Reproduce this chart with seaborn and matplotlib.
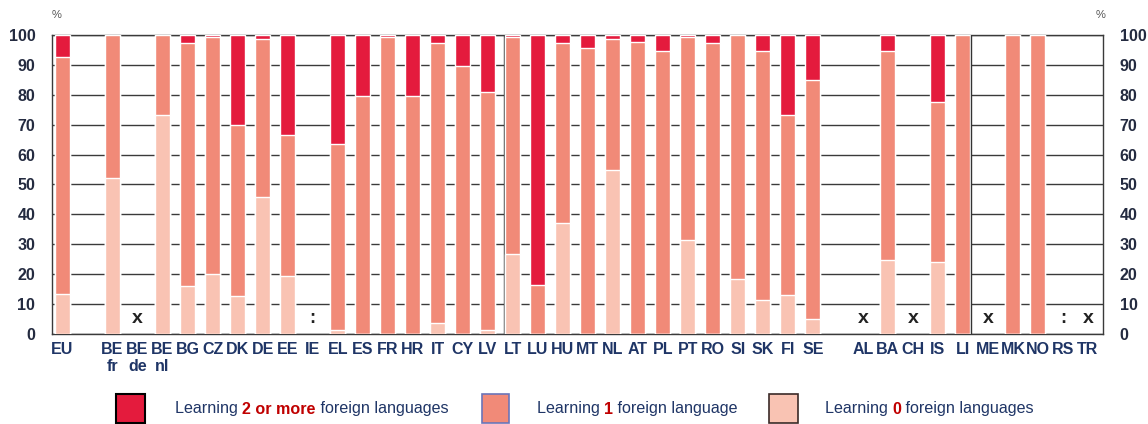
import numpy as np
import pandas as pd
import seaborn as sns
import matplotlib.pyplot as plt
from matplotlib.patches import Rectangle
from matplotlib import font_manager

sns.set_style("white")
plt.rcParams['font.family'] = ['Liberation Sans', 'DejaVu Sans']

nan = np.nan

# country slots ("gap" entries are empty spacer slots)
countries = ["EU", "gap1", "BE fr", "BE de", "BE nl", "BG", "CZ", "DK", "DE", "EE",
             "IE", "EL", "ES", "FR", "HR", "IT", "CY", "LV", "LT", "LU", "HU", "MT",
             "NL", "AT", "PL", "PT", "RO", "SI", "SK", "FI", "SE", "gap2",
             "AL", "BA", "CH", "IS", "LI", "ME", "MK", "NO", "RS", "TR"]
tick_labels = ["EU", "", "BE\nfr", "BE\nde", "BE\nnl", "BG", "CZ", "DK", "DE", "EE",
               "IE", "EL", "ES", "FR", "HR", "IT", "CY", "LV", "LT", "LU", "HU", "MT",
               "NL", "AT", "PL", "PT", "RO", "SI", "SK", "FI", "SE", "",
               "AL", "BA", "CH", "IS", "LI", "ME", "MK", "NO", "RS", "TR"]

zero_lang = [13.5, nan, 52.3, nan, 73.2, 16.2, 19.9, 12.8, 45.8, 19.5,
             nan, 1.3, 0, 0, 0, 3.6, 0, 1.3, 26.6, 0, 37.1, 0,
             55.0, 0, 0, 31.5, 0, 18.4, 11.2, 13.1, 5.0, nan,
             nan, 24.6, nan, 24.2, 0, nan, 0, 0, nan, nan]
one_lang = [79.0, nan, 47.7, nan, 26.8, 81.2, 79.3, 57.0, 52.8, 47.0,
            nan, 62.4, 79.6, 99.4, 79.7, 93.8, 89.7, 79.5, 72.6, 16.5, 60.3, 95.5,
            43.7, 97.8, 94.7, 67.9, 97.4, 81.6, 83.5, 60.1, 79.9, nan,
            nan, 70.1, nan, 53.4, 100, nan, 100, 100, nan, nan]
two_lang = [7.5, nan, 0, nan, 0, 2.6, 0.8, 30.2, 1.4, 33.5,
            nan, 36.3, 20.4, 0.6, 20.3, 2.6, 10.3, 19.2, 0.8, 83.5, 2.6, 4.5,
            1.3, 2.2, 5.3, 0.6, 2.6, 0, 5.3, 26.8, 15.1, nan,
            nan, 5.3, nan, 22.4, 0, nan, 0, 0, nan, nan]

# x = not available, : = no data
missing = {"BE de": "x", "IE": ":", "AL": "x", "CH": "x", "ME": "x", "RS": ":", "TR": "x"}

c_two = "#e41b3d"
c_one = "#f18a78"
c_zero = "#f9c3b3"
navy = "#1f3566"

df = pd.DataFrame({"country": countries, "zero": zero_lang, "one": one_lang, "two": two_lang})
df["top0"] = df["zero"]
df["top1"] = df["zero"] + df["one"]
df["top2"] = df["top1"] + df["two"]

fig = plt.figure(figsize=(11.48, 4.24), dpi=100)
ax = fig.add_axes([0.0453, 0.2123, 0.9155, 0.7052])

for col, c in [("top2", c_two), ("top1", c_one), ("top0", c_zero)]:
    sns.barplot(data=df, x="country", y=col, order=countries, color=c, width=0.6,
                saturation=1, errorbar=None, ax=ax, zorder=3)

for name, mark in missing.items():
    ax.text(countries.index(name), 5.3, mark, ha="center", va="center",
            fontsize=14 if mark == "x" else 13, fontweight="bold", color="#222222", zorder=4)

# thin separators visible in the original
ax.axvline(countries.index("LT") - 0.33, color="#333333", lw=1, zorder=2)
ax.axvline(countries.index("LI") + 0.31, color="#333333", lw=1, zorder=4)

ax.set_xlim(-0.42, len(countries) - 1 + 0.6)
ax.set_ylim(0, 100)
ax.set_yticks(range(0, 101, 10))
ax.yaxis.grid(True, color="#3a3a3a", lw=1)
ax.set_axisbelow(True)
for s in ax.spines.values():
    s.set_color("#3a3a3a")
    s.set_linewidth(1)

ax.set_xticks(range(len(countries)))
ax.set_xticklabels(tick_labels, fontsize=11.5, fontweight="bold", color=navy, linespacing=1.15)
ax.tick_params(axis="y", labelright=True, right=False, left=False, length=0, pad=12,
               labelsize=11.5, labelcolor="#242b40")
for t in ax.yaxis.get_majorticklabels():
    t.set_fontweight("bold")
ax.tick_params(axis="x", length=0, pad=6)
ax.set_xlabel("")
ax.set_ylabel("")

fig.text(57 / 1148, 1 - 15 / 424, "%", fontsize=8, color="#555555", ha="center", va="center")
fig.text(1101 / 1148, 1 - 15 / 424, "%", fontsize=8, color="#555555", ha="center", va="center")

# legend built by hand so the numbers can be coloured
try:
    font_manager.findfont("Liberation Sans Narrow", fallback_to_default=False)
    lfam = ["Liberation Sans Narrow", "DejaVu Sans"]
    lsize = 12
except Exception:
    lfam = ["Liberation Sans", "DejaVu Sans"]
    lsize = 11.6

W, H = 1148, 424
legend_items = [
    (116, 29, c_two, "black", 175, "Learning ", "2 or more", " foreign languages"),
    (482, 27, c_one, "#6b74b8", 537, "Learning ", "1", " foreign language"),
    (769, 29, c_zero, "#3b2a28", 825, "Learning ", "0", " foreign languages"),
]
fig.canvas.draw()
renderer = fig.canvas.get_renderer()
ty = 1 - 409 / H
for px, pw, fc, ec, tx, a, b, c in legend_items:
    fig.add_artist(Rectangle((px / W, 1 - 423 / H), pw / W, 29 / H, transform=fig.transFigure,
                             facecolor=fc, edgecolor=ec, lw=1.5 if ec == "black" else 1.2))
    x = tx / W
    for txt, col, wt in [(a, navy, "normal"), (b, "#c00000", "bold"), (c, navy, "normal")]:
        t = fig.text(x, ty, txt, fontsize=lsize, color=col, fontweight=wt, family=lfam,
                     ha="left", va="center")
        x += t.get_window_extent(renderer).width / W

fig.savefig("out.png", dpi=100)
